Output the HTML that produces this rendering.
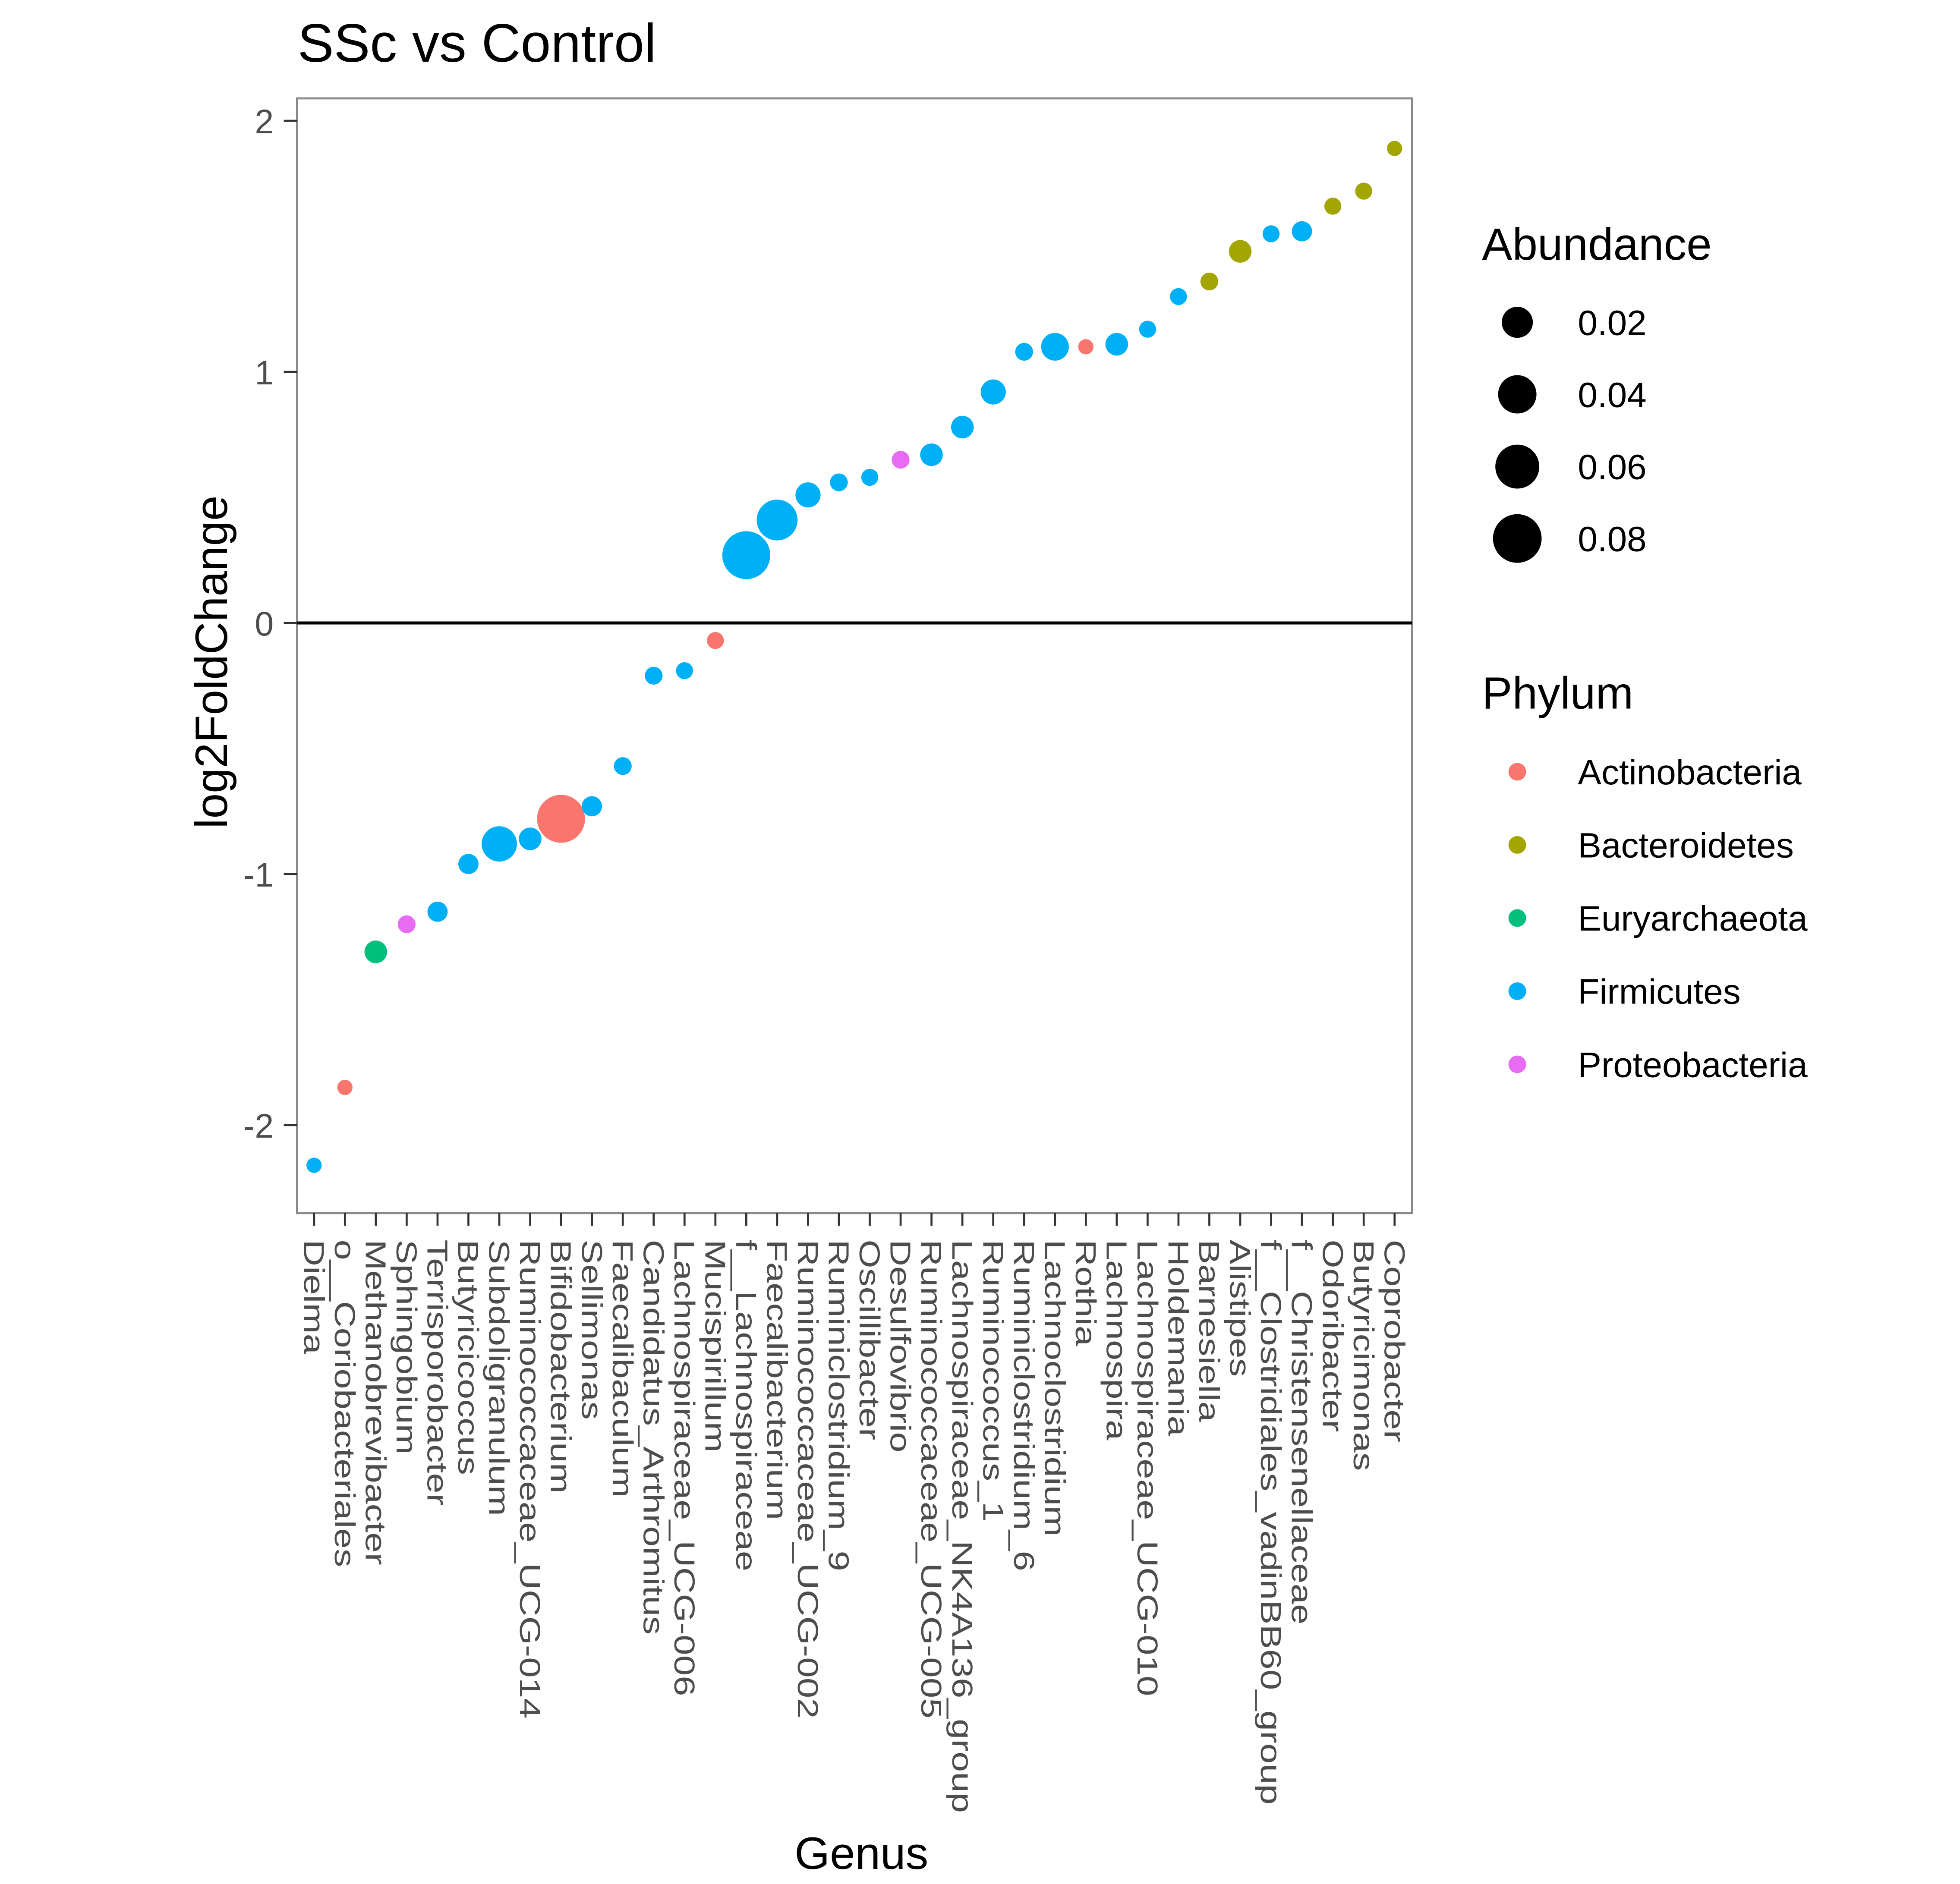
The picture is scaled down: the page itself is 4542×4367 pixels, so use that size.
<!DOCTYPE html>
<html><head><meta charset="utf-8"><style>
html,body{margin:0;padding:0;background:#fff;}
svg{display:block;}
text{font-family:"Liberation Sans",sans-serif;}
</style></head><body>
<svg id="chart" width="4542" height="4367" viewBox="0 0 1554 1494" preserveAspectRatio="none" xmlns="http://www.w3.org/2000/svg">
<rect width="1554" height="1494" fill="#fff"/>
<text x="236" y="49" font-size="43" fill="#000">SSc vs Control</text>
<rect x="235.5" y="78" width="884" height="884" fill="none" stroke="#8a8a8a" stroke-width="1.6"/>
<g id="marks"></g>
<text transform="translate(180,525) rotate(-90)" text-anchor="middle" font-size="36" fill="#000">log2FoldChange</text>
<text x="683" y="1482" text-anchor="middle" font-size="36" fill="#000">Genus</text>
<g id="legend">
<text x="1175" y="206" font-size="36">Abundance</text>
<text x="1175" y="562" font-size="36">Phylum</text>
</g>
</svg>
<script>
const genera=["Dielma","o__Coriobacteriales","Methanobrevibacter","Sphingobium","Terrisporobacter","Butyricicoccus","Subdoligranulum","Ruminococcaceae_UCG-014","Bifidobacterium","Sellimonas","Faecalibaculum","Candidatus_Arthromitus","Lachnospiraceae_UCG-006","Mucispirillum","f__Lachnospiraceae","Faecalibacterium","Ruminococcaceae_UCG-002","Ruminiclostridium_9","Oscillibacter","Desulfovibrio","Ruminococcaceae_UCG-005","Lachnospiraceae_NK4A136_group","Ruminococcus_1","Ruminiclostridium_6","Lachnoclostridium","Rothia","Lachnospira","Lachnospiraceae_UCG-010","Holdemania","Barnesiella","Alistipes","f__Clostridiales_vadinBB60_group","f__Christensenellaceae","Odoribacter","Butyricimonas","Coprobacter"];
const log2fc=[-2.16,-1.85,-1.31,-1.20,-1.15,-0.96,-0.88,-0.86,-0.78,-0.73,-0.57,-0.21,-0.19,-0.07,0.27,0.41,0.51,0.56,0.58,0.65,0.67,0.78,0.92,1.08,1.10,1.10,1.11,1.17,1.30,1.36,1.48,1.55,1.56,1.66,1.72,1.89];
const phylum=["F","A","E","P","F","F","F","F","A","F","F","F","F","A","F","F","F","F","F","P","F","F","F","F","F","A","F","F","F","B","B","F","F","B","B","B"];
const abundance=[0.0002,0.0002,0.0054,0.0012,0.0029,0.0029,0.0308,0.0054,0.0767,0.0029,0.0012,0.0012,0.0008,0.0008,0.0767,0.0484,0.0087,0.0012,0.0008,0.0012,0.0054,0.0054,0.0087,0.0012,0.0131,0.0002,0.0054,0.0008,0.0008,0.0012,0.0054,0.0008,0.0029,0.0008,0.0008,0.0002];
const yTicks=[2,1,0,-1,-2];
const sizeBreaks=[0.02,0.04,0.06,0.08];
const phylaNames=["Actinobacteria","Bacteroidetes","Euryarchaeota","Firmicutes","Proteobacteria"];
const phylaKeys=["A","B","E","F","P"];
const colors={A:"#F8766D",B:"#A3A500",E:"#00BF7D",F:"#00B0F6",P:"#E76BF3"};
const NS="http://www.w3.org/2000/svg";
const xS=i=>249+i*(1105.7-249)/(genera.length-1);
const yS=v=>494-v*199.1;
const rS=a=>5.35+49.3*Math.sqrt(a);
const g=document.getElementById('marks');
function mk(tag,attrs,parent){const e=document.createElementNS(NS,tag);for(const k in attrs)e.setAttribute(k,attrs[k]);parent.appendChild(e);return e;}
const zl=mk('line',{x1:235.5,x2:1119.5,y1:yS(0),y2:yS(0),stroke:'#000','stroke-width':2.4},g);


yTicks.forEach(t=>{
 const l=mk('line',{x1:225,x2:235.5,y1:yS(t),y2:yS(t),stroke:'#333','stroke-width':1.6},g);
 
 
 const tx=mk('text',{x:217,y:yS(t)+10,'text-anchor':'end','font-size':27,fill:'#4d4d4d'},g);
 tx.textContent=t;
 
 
});
genera.forEach((n,i)=>{
 const x=xS(i);
 const l=mk('line',{x1:x,x2:x,y1:962,y2:972,stroke:'#333','stroke-width':1.6},g);
 
 
 const tx=mk('text',{transform:`translate(${x-8},983) rotate(90) scale(1.27,1)`,'font-size':23,fill:'#4d4d4d'},g);
 tx.textContent=n;
 
 
});
genera.forEach((n,i)=>{
 const c=mk('circle',{cx:xS(i),cy:yS(log2fc[i]),r:rS(abundance[i]),fill:colors[phylum[i]]},g);
 
 
});
const lg=document.getElementById('legend');
const sy=[255.6,312.7,370,427];
sizeBreaks.forEach((b,i)=>{
 const c=mk('circle',{cx:1203,cy:sy[i],r:rS(b),fill:'#000'},lg);
 
 
 const t=mk('text',{x:1251,y:sy[i]+10,'font-size':28,fill:'#000'},lg);
 t.textContent=b.toFixed(2);
 
 
});
const py=[612,670,728,786,844];
phylaNames.forEach((n,i)=>{
 const c=mk('circle',{cx:1203,cy:py[i],r:7,fill:colors[phylaKeys[i]]},lg);
 
 
 const t=mk('text',{x:1251,y:py[i]+10,'font-size':28,fill:'#000'},lg);
 t.textContent=n;
 
 
});
</script>
</body></html>
